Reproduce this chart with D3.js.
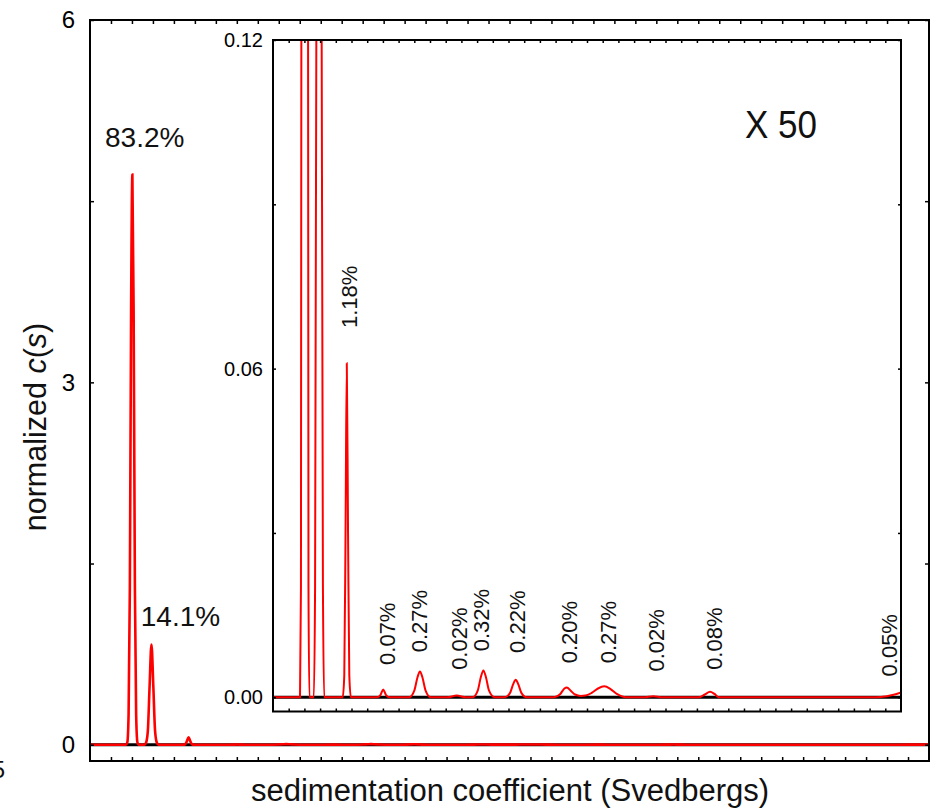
<!DOCTYPE html>
<html>
<head>
<meta charset="utf-8">
<script src="https://cdn.jsdelivr.net/npm/d3@7"></script>
<style>
  html, body { margin: 0; padding: 0; background: #fff; }
  svg { display: block; font-family: "Liberation Sans", Arial, Helvetica, sans-serif; }
</style>
</head>
<body>
<svg id="chart" width="935" height="811"></svg>
<script>
// c(s) distribution: sedimentation coefficient (S) and normalized c(s)
const sValues = [
  0, 0.86, 0.89, 0.92, 0.95, 0.98, 1.01, 1.04, 1.07, 1.10, 1.13, 1.16,
  1.30, 1.34, 1.38, 1.42, 1.465, 1.51, 1.55, 1.59, 1.63,
  2.22, 2.27, 2.31, 2.35, 2.39, 2.43, 2.48,
  3.30, 3.42, 3.51, 3.60, 3.72,
  4.34, 4.50, 4.60, 4.68, 4.76, 4.86, 5.02,
  5.55, 5.85, 6.15,
  6.36, 6.52, 6.62, 6.70, 6.78, 6.88, 7.06,
  7.38, 7.55, 7.65, 7.73, 7.81, 7.91, 8.08,
  8.95, 9.15, 9.28, 9.36, 9.48, 9.62, 9.80, 9.95, 10.15, 10.35, 10.55, 10.75, 10.95, 11.15, 11.30,
  11.80, 12.11, 12.40,
  13.55, 13.75, 13.92, 14.06, 14.20,
  19.20, 19.55, 19.80, 20.0
];
const cValues = [
  0, 0, 0.02, 0.25, 1.3, 3.6, 4.72, 3.6, 1.3, 0.25, 0.02, 0,
  0, 0.02, 0.12, 0.48, 0.83, 0.48, 0.12, 0.02, 0,
  0, 0.004, 0.03, 0.061, 0.03, 0.004, 0,
  0, 0.0004, 0.0014, 0.0004, 0,
  0, 0.0012, 0.0036, 0.0047, 0.0036, 0.0012, 0,
  0, 0.0003, 0,
  0, 0.0012, 0.0037, 0.0049, 0.0037, 0.0012, 0,
  0, 0.0008, 0.0024, 0.0032, 0.0024, 0.0008, 0,
  0, 0.0006, 0.0016, 0.0018, 0.0012, 0.0005, 0.00025, 0.0003, 0.0008, 0.0016, 0.002, 0.0015, 0.0006, 0.0001, 0,
  0, 0.0002, 0,
  0, 0.0005, 0.001, 0.0006, 0,
  0, 0.0002, 0.0005, 0.0009
];

// peak fractions in the full view: text, s and c of the label anchor
const mainLabelText = ["83.2%", "14.1%"];
const mainLabelS = [0.358, 1.21];
const mainLabelC = [4.95, 0.985];

// peak fractions in the magnified view (rotated labels)
const insetLabelText = ["1.18%", "0.07%", "0.27%", "0.02%", "0.32%", "0.22%", "0.20%", "0.27%", "0.02%", "0.08%", "0.05%"];
const insetLabelS = [2.42, 3.62, 4.65, 5.94, 6.62, 7.77, 9.43, 10.67, 12.20, 14.04, 19.62];
const insetLabelC = [0.0674, 0.0059, 0.0082, 0.0050, 0.0084, 0.0081, 0.0062, 0.0062, 0.0047, 0.0050, 0.0038];

// axis tick values
const mainYTickLabels = [0, 3, 6];
const mainYTicks = [0, 1.5, 3, 4.5, 6];
const insetYTickLabels = [0, 0.06, 0.12];
const insetYTicks = [0, 0.03, 0.06, 0.09, 0.12];
const sTicks = d3.range(1, 40).map(i => i * 0.5);

const data = sValues.map((s, i) => ({ s: s, c: cValues[i] }));

const svg = d3.select("#chart");
const red = "#ff0000";

// ---------- main panel ----------
const M = { left: 90, right: 929, top: 20, bottom: 761 };
const x = d3.scaleLinear().domain([0, 20]).range([M.left, M.right]);
const y = d3.scaleLinear().domain([-0.135, 6]).range([M.bottom, M.top]);

const line = (xs, ys) => d3.line().x(d => xs(d.s)).y(d => ys(d.c)).curve(d3.curveMonotoneX);

// zero line
svg.append("line")
  .attr("x1", M.left).attr("x2", M.right)
  .attr("y1", y(0)).attr("y2", y(0))
  .attr("stroke", "#000").attr("stroke-width", 3);

svg.append("path").datum(data)
  .attr("d", line(x, y))
  .attr("fill", "none").attr("stroke", red).attr("stroke-width", 2.6);

function frameAxes(g, xs, ys, yTicks, yLabels, fmt, fontSize, tick, pad) {
  const [x0, x1] = xs.range();
  const [y0, y1] = ys.range();
  g.append("g").attr("transform", `translate(0,${y0})`)
    .call(d3.axisBottom(xs).tickValues(sTicks).tickSize(-tick).tickFormat(""));
  g.append("g").attr("transform", `translate(0,${y1})`)
    .call(d3.axisTop(xs).tickValues(sTicks).tickSize(-tick).tickFormat(""));
  g.append("g").attr("transform", `translate(${x1},0)`)
    .call(d3.axisRight(ys).tickValues(yTicks).tickSize(-tick).tickFormat(""));
  const left = g.append("g").attr("transform", `translate(${x0},0)`)
    .call(d3.axisLeft(ys).tickValues(yTicks).tickSize(-tick).tickPadding(pad)
      .tickFormat(v => yLabels.includes(v) ? fmt(v) : ""));
  g.selectAll(".domain").remove();
  g.selectAll(".tick line").attr("stroke", "#000").attr("stroke-width", 1.5);
  left.selectAll("text").attr("font-size", fontSize).attr("fill", "#000")
    .attr("font-family", "'Liberation Sans', Arial, sans-serif");
  g.append("rect")
    .attr("x", x0).attr("y", y1).attr("width", x1 - x0).attr("height", y0 - y1)
    .attr("fill", "none").attr("stroke", "#000").attr("stroke-width", 2);
}

frameAxes(svg.append("g"), x, y, mainYTicks, mainYTickLabels, d3.format("d"), 24, 4, 15);

svg.selectAll(".main-label").data(mainLabelText).join("text")
  .attr("class", "main-label")
  .attr("x", (d, i) => x(mainLabelS[i]))
  .attr("y", (d, i) => y(mainLabelC[i]))
  .attr("font-size", 28).attr("fill", "#111")
  .text(d => d);

// ---------- magnified inset ----------
const I = { left: 273, right: 901, top: 40, bottom: 711.5 };
const xi = d3.scaleLinear().domain([0, 20]).range([I.left, I.right]);
const yi = d3.scaleLinear().domain([-0.0026, 0.12]).range([I.bottom, I.top]);

const inset = svg.append("g");
inset.append("rect")
  .attr("x", I.left).attr("y", I.top)
  .attr("width", I.right - I.left).attr("height", I.bottom - I.top)
  .attr("fill", "#fff");

svg.append("clipPath").attr("id", "inset-clip")
  .append("rect")
  .attr("x", I.left).attr("y", I.top)
  .attr("width", I.right - I.left).attr("height", I.bottom - I.top);

const plotArea = inset.append("g").attr("clip-path", "url(#inset-clip)");
plotArea.append("line")
  .attr("x1", I.left).attr("x2", I.right)
  .attr("y1", yi(0)).attr("y2", yi(0))
  .attr("stroke", "#000").attr("stroke-width", 3);
plotArea.append("path").datum(data)
  .attr("d", line(xi, yi))
  .attr("fill", "none").attr("stroke", red).attr("stroke-width", 2);

frameAxes(inset.append("g"), xi, yi, insetYTicks, insetYTickLabels, d3.format(".2f"), 20, 3, 10);

inset.selectAll(".inset-label").data(insetLabelText).join("text")
  .attr("class", "inset-label")
  .attr("transform", (d, i) => `translate(${xi(insetLabelS[i])},${yi(insetLabelC[i])}) rotate(-90)`)
  .attr("dy", "0.36em")
  .attr("font-size", 22).attr("fill", "#111")
  .text(d => d);

inset.append("text")
  .attr("x", 745).attr("y", 138)
  .attr("font-size", 38).attr("fill", "#111")
  .attr("textLength", 72).attr("lengthAdjust", "spacingAndGlyphs")
  .text("X 50");

// ---------- axis titles ----------
svg.append("text")
  .attr("x", 510).attr("y", 801)
  .attr("text-anchor", "middle").attr("font-size", 31).attr("fill", "#111")
  .text("sedimentation coefficient (Svedbergs)");

const yTitle = svg.append("text")
  .attr("transform", "translate(46,427) rotate(-90)")
  .attr("text-anchor", "middle").attr("font-size", 30.5).attr("fill", "#111");
yTitle.append("tspan").text("normalized ");
yTitle.append("tspan").attr("font-style", "italic").text("c");
yTitle.append("tspan").text("(");
yTitle.append("tspan").attr("font-style", "italic").text("s");
yTitle.append("tspan").text(")");

svg.append("text")
  .attr("x", 5).attr("y", 778)
  .attr("text-anchor", "end").attr("font-size", 24).attr("fill", "#111")
  .text("5");
</script>
</body>
</html>
